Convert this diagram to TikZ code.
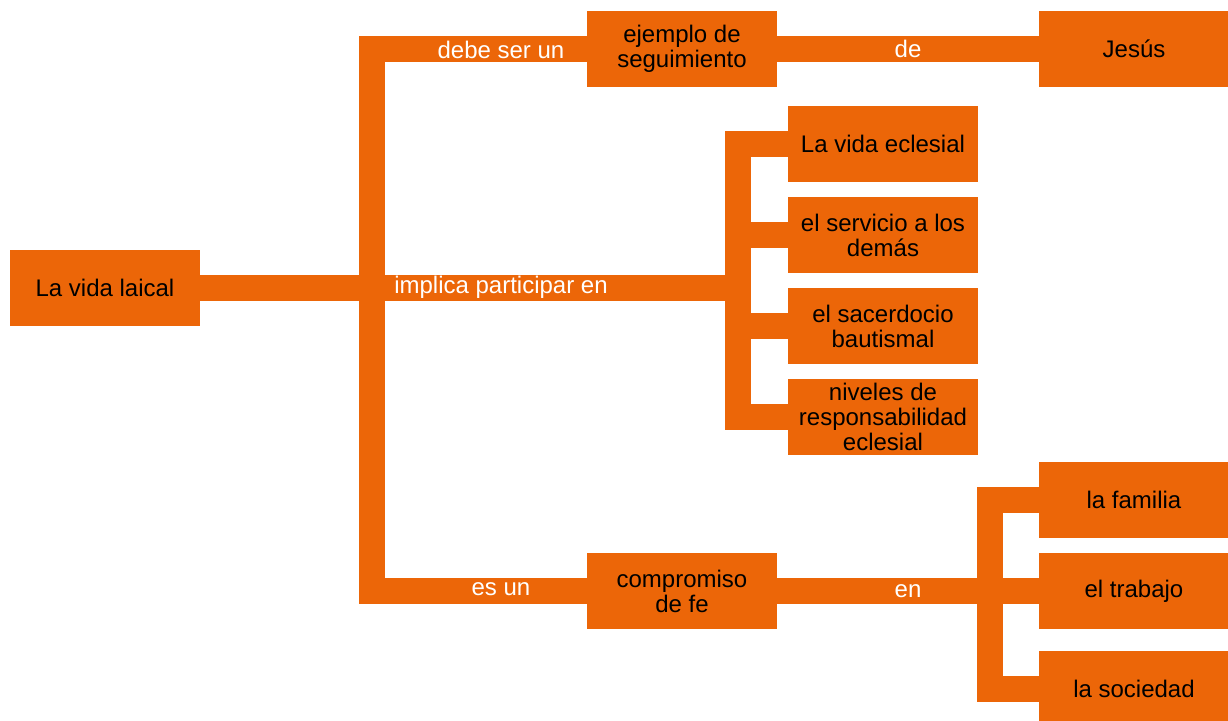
\documentclass[tikz,border=0pt]{standalone}
\usepackage{fontspec}
\setmainfont{Liberation Sans}
\definecolor{naranja}{RGB}{236,102,8}
\tikzset{
    caja/.style={fill=naranja, minimum width=95pt, minimum height=38pt,
        inner sep=2pt, align=center, font=\fontsize{12}{12.5}\selectfont},
    barra/.style={draw=naranja, line width=13pt, line join=miter},
    etiqueta/.style={text=white, inner sep=0pt, font=\fontsize{12}{12.5}\selectfont},
}
\begin{document}
\begin{tikzpicture}[x=0.5pt,y=-0.5pt]
    \useasboundingbox (0,0) rectangle (1228,721);

    \node[caja] (laical) at (105,288) {La vida laical};
    \node[caja] (ejemplo) at (682,49) {ejemplo de\\seguimiento};
    \node[caja] (jesus) at (1134,49) {Jesús};
    \node[caja] (compromiso) at (682,591) {compromiso\\de fe};

    \node[caja] (eclesial) at (883,144) {La vida eclesial};
    \node[caja] (servicio) at (883,235) {el servicio a los\\demás};
    \node[caja] (sacerdocio) at (883,326) {el sacerdocio\\bautismal};
    \node[caja] (niveles) at (883,417) {niveles de\\responsabilidad\\eclesial};

    \node[caja] (familia) at (1134,500) {la familia};
    \node[caja] (trabajo) at (1134,591) {el trabajo};
    \node[caja] (sociedad) at (1134,689) {la sociedad};

    \coordinate (tronco) at (372,288);
    \coordinate (rama) at (738,288);
    \coordinate (rama2) at (990,591);

    \draw[barra] (ejemplo.west) -| (tronco) |- (compromiso.west);
    \draw[barra] (laical.east) -- (rama);
    \draw[barra] (eclesial.west) -| (rama) |- (niveles.west);
    \foreach \hijo in {servicio,sacerdocio} {
        \draw[barra] (rama |- \hijo.west) -- (\hijo.west);
    }
    \draw[barra] (ejemplo.east) -- node[etiqueta] (de) {de} (jesus.west);
    \draw[barra] (compromiso.east) -- node[etiqueta] (en) {en} (trabajo.west);
    \draw[barra] (familia.west) -| (rama2) |- (sociedad.west);

    \node[etiqueta] (debe) at (501,50) {debe ser un};
    \node[etiqueta] (implica) at (501,287) {implica participar en};
    \node[etiqueta] (esun) at (501,589) {es un};
\end{tikzpicture}
\end{document}
